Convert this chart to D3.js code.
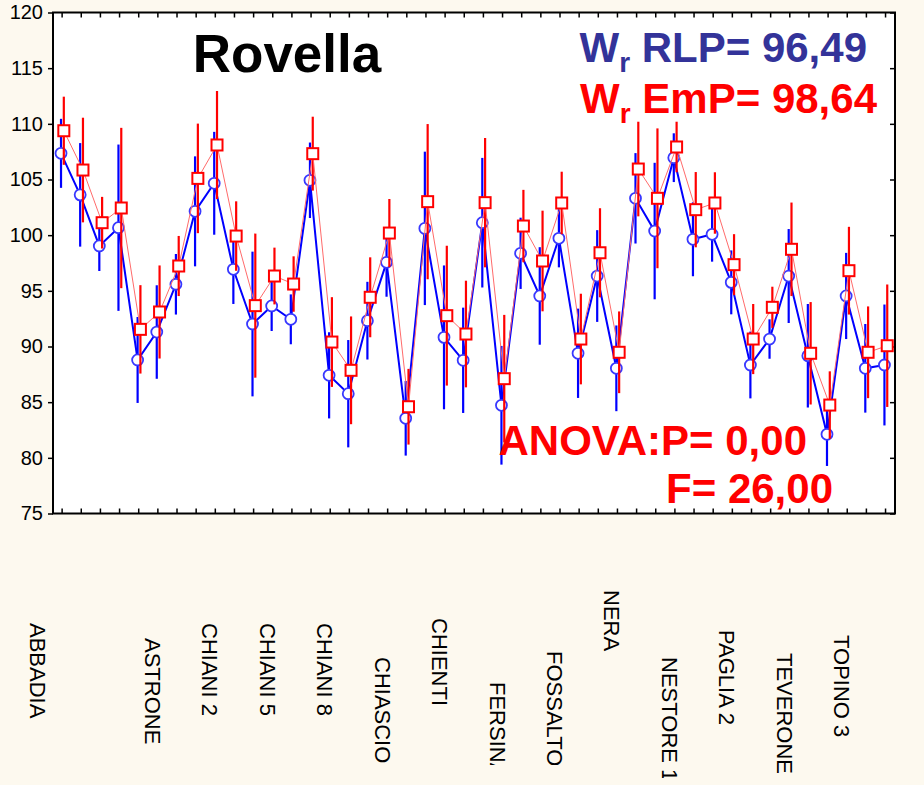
<!DOCTYPE html>
<html>
<head>
<meta charset="utf-8">
<script src="https://cdn.jsdelivr.net/npm/d3@7"></script>
<style>
  body { margin: 0; background: #fdf9ef; }
  svg { display: block; font-family: "Liberation Sans", Arial, sans-serif; }
</style>
</head>
<body>
<svg width="924" height="785"></svg>
<script>
// means and half-widths of the error bars, one per station (44)
const rlpMean = [107.35, 103.62, 99.03, 100.67, 88.79, 91.3, 95.59, 102.14, 104.66, 96.93,
  92.02, 93.64, 92.44, 104.93, 87.41, 85.76, 92.32, 97.56, 83.55, 100.61,
  90.82, 88.76, 101.12, 84.72, 98.37, 94.54, 99.72, 89.39, 96.33, 88.04,
  103.31, 100.37, 106.96, 99.63, 100.08, 95.76, 88.34, 90.67, 96.33, 89.17,
  82.11, 94.54, 88.04, 88.34];
const rlpErr = [3.1, 4.65, 2.25, 7.47, 3.86, 4.2, 2.72, 4.94, 4.62, 3.11,
  6.5, 2.25, 2.24, 3.39, 3.87, 4.82, 3.49, 3.09, 3.35, 6.89,
  6.46, 4.73, 5.82, 5.33, 3.2, 4.38, 2.61, 4.01, 4.12, 3.85,
  4.06, 6.13, 2.19, 3.32, 2.46, 2.87, 3.0, 1.77, 4.22, 4.65,
  2.84, 3.87, 3.98, 5.43];
const empMean = [109.38, 105.85, 101.12, 102.44, 91.54, 93.1, 97.23, 105.1, 108.1, 99.92,
  93.67, 96.33, 95.61, 107.32, 90.4, 87.86, 94.42, 100.19, 84.59, 103.01,
  92.77, 91.12, 102.92, 87.11, 100.82, 97.68, 102.89, 90.67, 98.42, 89.48,
  105.94, 103.31, 107.92, 102.29, 102.89, 97.35, 90.67, 93.52, 98.73, 89.39,
  84.74, 96.81, 89.48, 90.07];
const empErr = [3.06, 4.7, 2.32, 7.2, 3.97, 4.18, 2.7, 4.92, 4.85, 3.12,
  6.47, 2.55, 2.49, 3.32, 4.03, 4.84, 3.59, 3.06, 3.4, 6.97,
  6.28, 4.79, 5.81, 5.73, 3.25, 4.52, 2.81, 4.07, 4.0, 3.67,
  4.25, 6.28, 2.27, 3.38, 2.76, 2.74, 3.15, 1.85, 4.2, 4.6,
  3.03, 3.94, 4.12, 5.5];

// station labels shown under the axis (every third slot)
const stationLabels = ["ABBADIA", "", "ASTRONE", "CHIANI 2", "CHIANI 5", "CHIANI 8", "CHIASCIO",
  "CHIENTI", "FERSINA", "FOSSALTO", "NERA", "NESTORE 1", "PAGLIA 2", "TEVERONE", "TOPINO 3"];
const labelTop = [623, 0, 638, 623, 623, 623, 657, 618, 682, 651, 590, 657, 630, 653, 635];

const yTicks = [75, 80, 85, 90, 95, 100, 105, 110, 115, 120];

const svg = d3.select("svg");
const pLeft = 53, pRight = 895, pTop = 12.5, pBottom = 513.5;
const idx = d3.range(rlpMean.length);

const x = d3.scaleLinear().domain([-0.45, 43.52]).range([pLeft, pRight]);
const y = d3.scaleLinear().domain([75, 120]).range([pBottom, pTop]);

// plot background
svg.append("rect")
  .attr("x", pLeft).attr("y", pTop)
  .attr("width", pRight - pLeft).attr("height", pBottom - pTop)
  .attr("fill", "#fff");

// axes
svg.append("g")
  .attr("transform", `translate(${pLeft},0)`)
  .call(d3.axisLeft(y).tickValues(yTicks).tickSize(5).tickPadding(5))
  .call(g => g.select(".domain").remove())
  .call(g => g.selectAll("text").attr("font-size", 20).attr("fill", "#000").attr("font-family", "Liberation Sans, Arial"))
  .call(g => g.selectAll("line").attr("stroke-width", 1.5));

svg.append("g")
  .attr("transform", `translate(${pRight},0)`)
  .call(d3.axisRight(y).tickValues(yTicks).tickSize(-5).tickFormat(""))
  .call(g => g.select(".domain").remove())
  .call(g => g.selectAll("line").attr("stroke-width", 1.5));

svg.append("g")
  .attr("transform", `translate(0,${pTop})`)
  .call(d3.axisTop(x).tickValues(idx).tickSize(-5).tickFormat(""))
  .call(g => g.select(".domain").remove())
  .call(g => g.selectAll("line").attr("stroke-width", 1.5));

svg.append("g")
  .attr("transform", `translate(0,${pBottom})`)
  .call(d3.axisBottom(x).tickValues(idx).tickSize(-5).tickFormat(""))
  .call(g => g.select(".domain").remove())
  .call(g => g.selectAll("line").attr("stroke-width", 1.5));

// frame
svg.append("rect")
  .attr("x", pLeft).attr("y", pTop)
  .attr("width", pRight - pLeft).attr("height", pBottom - pTop)
  .attr("fill", "none")
  .attr("stroke", "#000")
  .attr("stroke-width", 2);

// RLP series (blue circles)
const bx = i => x(i) - 0.6;
const rx = i => x(i) + 2.2;

svg.append("g").selectAll("line")
  .data(idx).join("line")
  .attr("x1", bx).attr("x2", bx)
  .attr("y1", i => y(rlpMean[i] + rlpErr[i]))
  .attr("y2", i => y(rlpMean[i] - rlpErr[i]))
  .attr("stroke", "#0000ff")
  .attr("stroke-width", 2.2);

svg.append("path")
  .datum(idx)
  .attr("d", d3.line().x(bx).y(i => y(rlpMean[i])))
  .attr("fill", "none")
  .attr("stroke", "#0000ff")
  .attr("stroke-width", 2);

svg.append("g").selectAll("circle")
  .data(idx).join("circle")
  .attr("cx", bx)
  .attr("cy", i => y(rlpMean[i]))
  .attr("r", 5.5)
  .attr("fill", "#fff")
  .attr("stroke", "#3838ff")
  .attr("stroke-width", 1.8);

// EmP series (red squares)
svg.append("g").selectAll("line")
  .data(idx).join("line")
  .attr("x1", rx).attr("x2", rx)
  .attr("y1", i => y(empMean[i] + empErr[i]))
  .attr("y2", i => y(empMean[i] - empErr[i]))
  .attr("stroke", "#ff0000")
  .attr("stroke-width", 2.2);

svg.append("path")
  .datum(idx)
  .attr("d", d3.line().x(rx).y(i => y(empMean[i])))
  .attr("fill", "none")
  .attr("stroke", "#ff6b6b")
  .attr("stroke-width", 1);

const sq = 11;
svg.append("g").selectAll("rect")
  .data(idx).join("rect")
  .attr("x", i => rx(i) - sq / 2)
  .attr("y", i => y(empMean[i]) - sq / 2)
  .attr("width", sq).attr("height", sq)
  .attr("fill", "#fff")
  .attr("stroke", "#ff0000")
  .attr("stroke-width", 2);

// titles and statistics
svg.append("text")
  .attr("x", 287).attr("y", 72)
  .attr("text-anchor", "middle")
  .attr("font-size", 53).attr("font-weight", "bold")
  .text("Rovella");

function wLine(txt, color, xEnd, yBase) {
  const t = svg.append("text")
    .attr("x", xEnd).attr("y", yBase)
    .attr("text-anchor", "end")
    .attr("font-size", 42).attr("font-weight", "bold")
    .attr("fill", color);
  t.append("tspan").text("W");
  t.append("tspan").attr("font-size", 28).attr("dy", 10).text("r");
  t.append("tspan").attr("dy", -10).text(" " + txt);
}
wLine("RLP= 96,49", "#333399", 867, 62);
wLine("EmP= 98,64", "#ff0000", 877, 113);

svg.append("text")
  .attr("x", 807).attr("y", 455)
  .attr("text-anchor", "end")
  .attr("font-size", 42).attr("font-weight", "bold")
  .attr("fill", "#ff0000")
  .text("ANOVA:P= 0,00");

svg.append("text")
  .attr("x", 833).attr("y", 503)
  .attr("text-anchor", "end")
  .attr("font-size", 42).attr("font-weight", "bold")
  .attr("fill", "#ff0000")
  .text("F= 26,00");

// rotated station labels, cut at the bottom like the original
const clip = svg.append("clipPath").attr("id", "lblclip");
clip.append("rect").attr("x", 0).attr("y", 520).attr("width", 567).attr("height", 245);
clip.append("rect").attr("x", 567).attr("y", 520).attr("width", 357).attr("height", 258);

svg.append("g")
  .attr("clip-path", "url(#lblclip)")
  .selectAll("text")
  .data(stationLabels.map((s, k) => ({ s, k })).filter(d => d.s !== ""))
  .join("text")
  .attr("transform", d => `translate(${x(3 * d.k - 1.24)},${labelTop[d.k]}) rotate(90)`)
  .attr("dy", "0.36em")
  .attr("font-size", 22)
  .attr("fill", "#000")
  .text(d => d.s);
</script>
</body>
</html>
